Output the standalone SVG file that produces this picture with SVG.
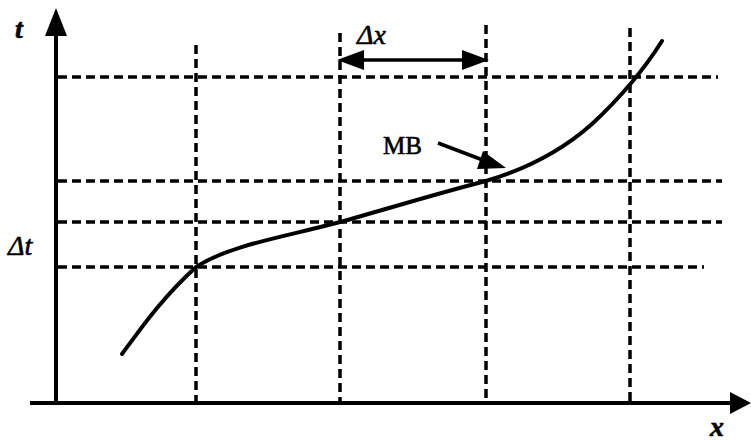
<svg xmlns="http://www.w3.org/2000/svg" width="751" height="441" viewBox="0 0 751 441">
<style>
.axis{stroke:#000;stroke-width:4;fill:none}
.grid{stroke:#000;stroke-width:3.5;fill:none;stroke-dasharray:9 5}
.curve{stroke:#000;stroke-width:4;fill:none;stroke-linecap:round;stroke-linejoin:round}
.lbl{font-family:"Liberation Serif","Times New Roman",serif;fill:#000;stroke:#000;stroke-width:0.6}
.it{font-style:italic;font-weight:bold}
</style>
<rect width="751" height="441" fill="#fff"/>
<g id="grid">
<line class="grid" x1="58" y1="77" x2="718" y2="77"/>
<line class="grid" x1="58" y1="181" x2="722" y2="181"/>
<line class="grid" x1="58" y1="222" x2="722" y2="222"/>
<line class="grid" x1="58" y1="267" x2="704" y2="267"/>
<line class="grid" x1="196" y1="45" x2="196" y2="402"/>
<line class="grid" x1="340" y1="33" x2="340" y2="402"/>
<line class="grid" x1="486" y1="25" x2="486" y2="402"/>
<line class="grid" x1="630" y1="28" x2="630" y2="402"/>
</g>
<g id="axes">
<line class="axis" x1="56" y1="405" x2="56" y2="32"/>
<path d="M56,8 L45,36 L67,36 Z" fill="#000"/>
<line class="axis" x1="30" y1="403" x2="732" y2="403"/>
<path d="M751,403 L730,392 L730,414 Z" fill="#000"/>
</g>
<g id="curve">
<path class="curve" d="M122,354 C140,330 160,300 196,267 C230,245 280,238 340,222 C400,205 450,190 486,181 C530,168 565,148 592,124 C620,98 645,68 662,41"/>
</g>
<g id="connectors">
<line x1="344" y1="60" x2="482" y2="60" stroke="#000" stroke-width="3.5"/>
<path d="M337,60 L364,50 L364,70 Z" fill="#000"/>
<path d="M489,60 L462,50 L462,70 Z" fill="#000"/>
<line x1="438" y1="143" x2="488" y2="162" stroke="#000" stroke-width="3.5"/>
<path d="M506,168 L483,151 L477,169 Z" fill="#000"/>
</g>
<g id="labels">
<text class="lbl it" x="15" y="38" font-size="28">t</text>
<text class="lbl" x="357" y="44" font-size="28" font-style="italic">Δx</text>
<text class="lbl" x="383" y="154" font-size="25">MB</text>
<text class="lbl" x="8" y="255" font-size="28" font-style="italic">Δt</text>
<text class="lbl it" x="710" y="436" font-size="28">x</text>
</g>
</svg>
